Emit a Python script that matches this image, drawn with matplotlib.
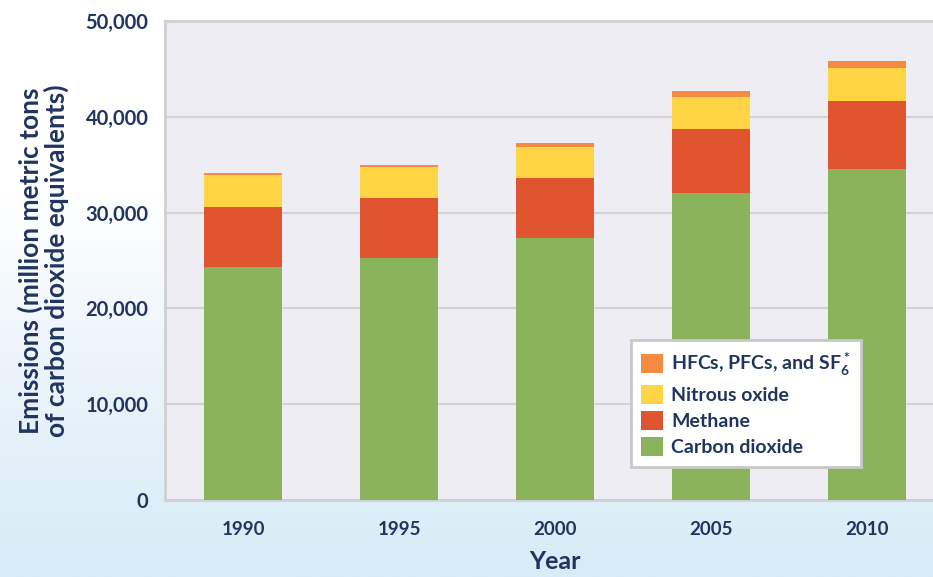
import numpy as np
import matplotlib
matplotlib.use("Agg")
import matplotlib.pyplot as plt
from matplotlib.colors import LinearSegmentedColormap

plt.rcParams['font.family'] = ['Lato', 'DejaVu Sans']
plt.rcParams['font.weight'] = 'bold'
plt.rcParams['mathtext.fontset'] = 'custom'
plt.rcParams['mathtext.rm'] = 'Lato:bold'
plt.rcParams['mathtext.bf'] = 'Lato:bold'

# data (million metric tons CO2 equivalents)
years = ["1990", "1995", "2000", "2005", "2010"]
carbon_dioxide = [24300, 25300, 27300, 32000, 34500]
methane = [6300, 6200, 6300, 6700, 7200]
nitrous_oxide = [3300, 3300, 3200, 3400, 3400]
hfcs = [200, 200, 450, 550, 700]

navy = "#1F3560"
colors = {
    "co2": "#8BB35C",
    "ch4": "#E0542F",
    "n2o": "#FFD545",
    "hfc": "#F58A42",
}

fig = plt.figure(figsize=(9.33, 5.77), dpi=100)

# sky-ish background
bg = fig.add_axes([0, 0, 1, 1], zorder=-10)
cmap = LinearSegmentedColormap.from_list("sky", ["#FFFFFF", "#FFFFFF", "#EAF3FA", "#D6ECF7"])
grad = np.linspace(0, 1, 256).reshape(-1, 1)
bg.imshow(grad, aspect="auto", cmap=cmap, extent=[0, 1, 0, 1], origin="upper")
bg.axis("off")

ax = fig.add_axes([165 / 933, 77 / 577, 780 / 933, 479 / 577])
ax.set_facecolor("#EFEDF4")

x = np.arange(len(years))
w = 0.5
b1 = np.array(carbon_dioxide)
b2 = b1 + np.array(methane)
b3 = b2 + np.array(nitrous_oxide)

ax.bar(x, carbon_dioxide, w, color=colors["co2"], label="Carbon dioxide", zorder=3)
ax.bar(x, methane, w, bottom=b1, color=colors["ch4"], label="Methane", zorder=3)
ax.bar(x, nitrous_oxide, w, bottom=b2, color=colors["n2o"], label="Nitrous oxide", zorder=3)
ax.bar(x, hfcs, w, bottom=b3, color=colors["hfc"], label="HFCs, PFCs, and SF$_6^*$", zorder=3)

ax.set_xlim(-0.5, 4.5)
ax.set_ylim(0, 50000)
ax.set_yticks(range(0, 50001, 10000))
ax.set_yticklabels([f"{v:,}" for v in range(0, 50001, 10000)])
ax.set_xticks(x)
ax.set_xticklabels(years)
ax.tick_params(length=0, labelsize=13.5, labelcolor=navy)
ax.tick_params(axis="y", labelsize=14.5, pad=12)
ax.tick_params(axis="x", pad=15)
ax.grid(axis="y", color="#D3D3D6", lw=1.5, zorder=1)
for s in ax.spines.values():
    s.set_color("#D0D0D2")
    s.set_linewidth(2)

ax.set_ylabel("Emissions (million metric tons\nof carbon dioxide equivalents)",
              fontsize=19, color=navy, fontweight="bold", labelpad=12, linespacing=1.0)
ax.set_xlabel("Year", fontsize=18, color=navy, fontweight="bold", labelpad=9)

handles, labels = ax.get_legend_handles_labels()
leg = ax.legend(handles[::-1], labels[::-1], loc="upper left",
                bbox_to_anchor=(0.597, 0.334), frameon=True, fancybox=False,
                framealpha=1, fontsize=14, handlelength=1.1, handleheight=1.1,
                handletextpad=0.45, labelspacing=0.36, borderpad=0.55, borderaxespad=0)
leg.get_frame().set_edgecolor("#C8C8C8")
leg.get_frame().set_linewidth(2)
for t in leg.get_texts():
    t.set_color(navy)

fig.savefig("out.png", dpi=100)
